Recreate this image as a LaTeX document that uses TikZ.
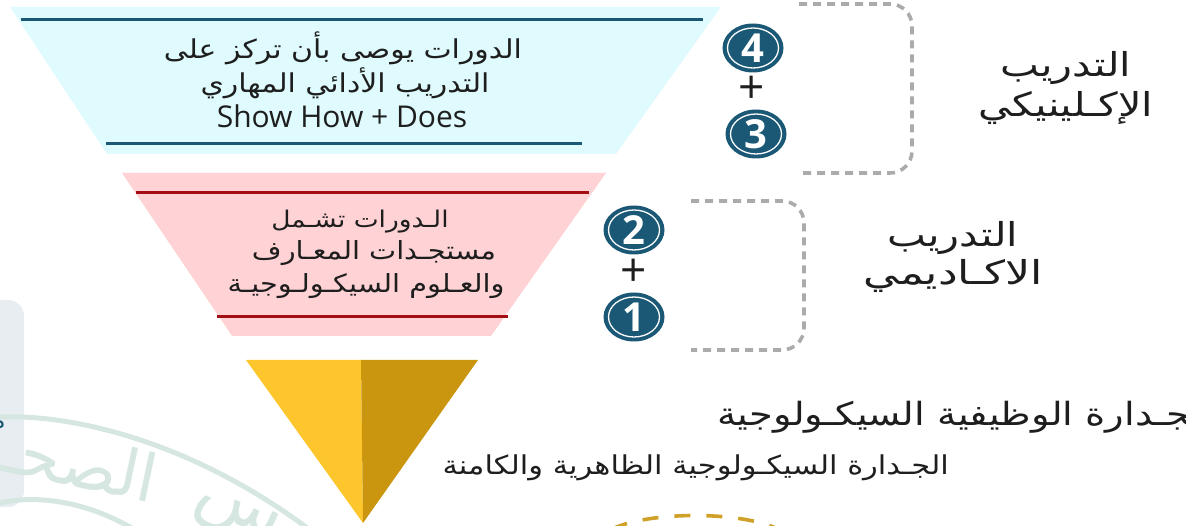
\documentclass[tikz,border=0pt]{standalone}
\usepackage{fontspec}
\usetikzlibrary{shapes.geometric}
\setmainfont{Open Sans}
\newfontfamily\arfont[Script=Arabic]{DejaVu Sans}
\TeXXeTstate=1
\newcommand{\arline}[1]{{\arfont\beginR #1\endR}}
\definecolor{cyanband}{HTML}{DFFBFD}
\definecolor{pinkband}{HTML}{FFD3D5}
\definecolor{tealdark}{HTML}{1A5876}
\definecolor{reddark}{HTML}{A30D14}
\definecolor{goldlight}{HTML}{FDC62D}
\definecolor{golddark}{HTML}{CA960F}
\definecolor{goldarc}{HTML}{CFA128}
\definecolor{bracketgray}{HTML}{ABABAB}
\definecolor{sealgreen}{HTML}{D6E7E1}
\definecolor{panelgray}{HTML}{E7EDF0}
\definecolor{inkdark}{HTML}{1E1E1E}
\tikzset{
  badge/.style={ellipse, fill=tealdark, text=white, inner sep=0pt, minimum width=61pt, minimum height=49pt, font=\fontsize{40}{40}\selectfont\bfseries},
  plus/.style={inner sep=0pt, text=inkdark, font=\fontsize{46}{46}\selectfont},
  bandline/.style={line width=3pt},
  bracket/.style={bracketgray, line width=3.6pt, dash pattern=on 8pt off 6pt, rounded corners=22pt},
  midtext/.style={inner sep=0pt, text=inkdark, xscale=1.15, transform shape, font=\fontsize{26}{34}\selectfont},
  latintext/.style={inner sep=0pt, text=inkdark, font=\fontsize{30}{34}\selectfont},
  bigtext/.style={inner sep=0pt, text=inkdark, xscale=1.25, transform shape, font=\fontsize{33}{40}\selectfont},
  sealtext/.style={inner sep=0pt, text=sealgreen}
}
\begin{document}
\begin{tikzpicture}[x=1pt, y=-1pt]
  \useasboundingbox (0, 0) rectangle (1186, 526);
  % stamp behind everything
  \draw[fill=panelgray, draw=none, rounded corners=16pt] (-30, 300) rectangle (24, 507);
  \draw[sealgreen, line width=5pt] (0, 417) .. controls (70, 414) and (190, 440) .. (310, 530);
  \draw[sealgreen, line width=5pt] (0, 503) .. controls (35, 495) and (85, 500) .. (135, 530);
  \node[sealtext, rotate=-12, font=\fontsize{66}{66}\selectfont] (sealA) at (80, 462) {\arline{الصحـ}};
  \node[sealtext, rotate=-25, font=\fontsize{72}{72}\selectfont] (sealB) at (235, 518) {\arline{س}};
  \node[inner sep=0pt, text=tealdark, font=\fontsize{24}{24}\selectfont] (cutoff) at (-2, 428) {\arline{م}};
  % bands
  \fill[cyanband] (10, 7) -- (721, 7) -- (616, 154) -- (107, 154) -- cycle;
  \draw[tealdark, bandline] (21, 20) -- (703, 20);
  \draw[tealdark, bandline] (106, 144) -- (582, 144);
  \fill[pinkband] (122, 173) -- (606, 173) -- (491, 336) -- (232, 336) -- cycle;
  \draw[reddark, bandline] (136, 193) -- (589, 193);
  \draw[reddark, bandline] (217, 317) -- (508, 317);
  \fill[goldlight] (246, 360) -- (361, 360) -- (363, 523) -- cycle;
  \fill[golddark] (361, 360) -- (478, 360) -- (363, 523) -- cycle;
  % band texts
  \node[midtext] (clinicalA) at (343, 48) {\arline{الدورات يوصى بأن تركز على}};
  \node[midtext] (clinicalB) at (345, 83) {\arline{التدريب الأدائي المهاري}};
  \node[latintext] (clinicalC) at (342, 116) {Show How + Does};
  \node[midtext, font=\fontsize{23}{34}\selectfont] (academicA) at (360, 222) {\arline{الـدورات تشـمل}};
  \node[midtext, font=\fontsize{25}{34}\selectfont] (academicB) at (374, 253) {\arline{مستجـدات المعـارف}};
  \node[midtext, font=\fontsize{25}{34}\selectfont] (academicC) at (366, 286) {\arline{والعـلوم السيكـولـوجيـة}};
  % numbers
  \foreach \num/\px/\py in {4/753/48, 3/756/134, 2/634/230, 1/634/317}{
    \node[badge] (badge\num) at (\px, \py) {\num};
    \draw[white, line width=1.3pt] (badge\num.center) ellipse (25.5 and 20);
  }
  \node[plus] (plusA) at (752, 90) {+};
  \node[plus] (plusB) at (634, 273) {+};
  % brackets
  \coordinate (clinTop) at (799, 4);
  \coordinate (clinBot) at (799, 173);
  \coordinate (acadTop) at (691, 201);
  \coordinate (acadBot) at (691, 350);
  \draw[bracket] (clinTop) -- (912, 4) -- (912, 173) -- (clinBot);
  \draw[bracket] (acadTop) -- (804, 201) -- (804, 350) -- (acadBot);
  % side labels
  \node[bigtext] (clinLabelA) at (1066, 68) {\arline{التدريب}};
  \node[bigtext] (clinLabelB) at (1066, 108) {\arline{الإكـلينيكي}};
  \node[bigtext] (acadLabelA) at (953, 238) {\arline{التدريب}};
  \node[bigtext, xscale=1.07] (acadLabelB) at (953, 276) {\arline{الاكـاديمي}};
  % bottom texts
  \node[bigtext, xscale=0.96, font=\fontsize{32}{40}\selectfont, anchor=west] (compA) at (717, 417) {\arline{الجـدارة الوظيفية السيكـولوجية}};
  \node[midtext, xscale=1.02, anchor=east] (compB) at (949, 468) {\arline{الجـدارة السيكـولوجية الظاهرية والكامنة}};
  \draw[goldarc, line width=3.6pt, dash pattern=on 16pt off 16pt] (612, 529) .. controls (650, 511) and (740, 511) .. (778, 529);
\end{tikzpicture}
\end{document}
